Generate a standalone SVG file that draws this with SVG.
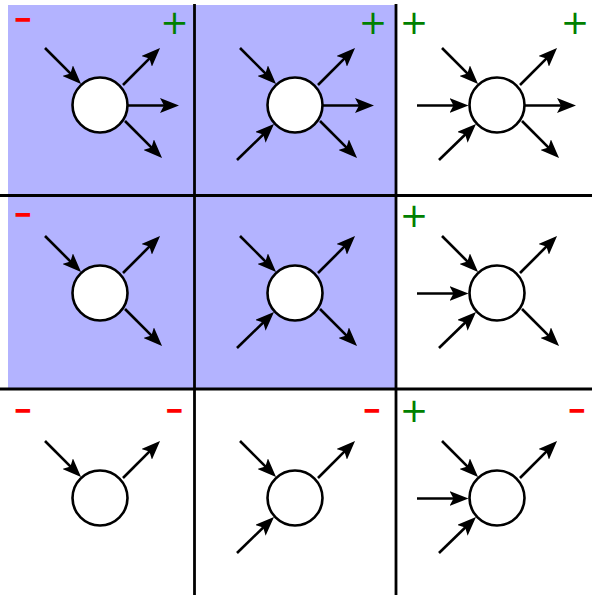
<svg xmlns="http://www.w3.org/2000/svg" width="592" height="595" viewBox="0 0 592 595">
<style>
.grid{stroke:#000;stroke-width:2.8;fill:none}
.node{fill:#fff;stroke:#000;stroke-width:2.6}
.arr{stroke:#000;stroke-width:2.6;fill:none;marker-end:url(#ah)}
.plus{fill:#008000;font-family:"DejaVu Sans",sans-serif;font-size:34px;text-anchor:middle}
.minus{fill:#ff0000;font-family:"DejaVu Sans",sans-serif;font-weight:bold;font-size:33px;text-anchor:middle}
</style>
<defs>
<marker id="ah" markerUnits="userSpaceOnUse" markerWidth="19" markerHeight="15" refX="13" refY="7.5" orient="auto" viewBox="0 0 19 15">
<path d="M0,0 L19,7.5 L0,15 L4,7.5 z" fill="#000"/>
</marker>
<line id="inTL" class="arr" x1="-55" y1="-57" x2="-23.2" y2="-25.2"/>
<line id="inBL" class="arr" x1="-58" y1="55" x2="-25.3" y2="23.2"/>
<line id="inL" class="arr" x1="-80" y1="0.5" x2="-34.5" y2="0.5"/>
<line id="outUR" class="arr" x1="23" y1="-20" x2="55.8" y2="-52.8"/>
<line id="outR" class="arr" x1="28" y1="0.5" x2="73" y2="0.5"/>
<line id="outDR" class="arr" x1="25" y1="16" x2="57.8" y2="48.8"/>
</defs>
<rect id="shaded" x="8" y="5" width="388" height="384" fill="#b3b3ff"/>
<g id="grid">
<line class="grid" x1="194.5" y1="4" x2="194.5" y2="595"/>
<line class="grid" x1="396" y1="4" x2="396" y2="595"/>
<line class="grid" x1="0" y1="195.5" x2="592" y2="195.5"/>
<line class="grid" x1="0" y1="389" x2="592" y2="389"/>
</g>
<g id="connectors">
<g transform="translate(100,105)"><use href="#inTL"/><use href="#outUR"/><use href="#outR"/><use href="#outDR"/></g>
<g transform="translate(295,105)"><use href="#inTL"/><use href="#inBL"/><use href="#outUR"/><use href="#outR"/><use href="#outDR"/></g>
<g transform="translate(497,105)"><use href="#inTL"/><use href="#inL"/><use href="#inBL"/><use href="#outUR"/><use href="#outR"/><use href="#outDR"/></g>
<g transform="translate(100,293)"><use href="#inTL"/><use href="#outUR"/><use href="#outDR"/></g>
<g transform="translate(295,293)"><use href="#inTL"/><use href="#inBL"/><use href="#outUR"/><use href="#outDR"/></g>
<g transform="translate(497,293)"><use href="#inTL"/><use href="#inL"/><use href="#inBL"/><use href="#outUR"/><use href="#outDR"/></g>
<g transform="translate(100,498)"><use href="#inTL"/><use href="#outUR"/></g>
<g transform="translate(295,498)"><use href="#inTL"/><use href="#inBL"/><use href="#outUR"/></g>
<g transform="translate(497,498)"><use href="#inTL"/><use href="#inL"/><use href="#inBL"/><use href="#outUR"/></g>
</g>
<g id="n11"><circle class="node" cx="100" cy="105" r="27.5"/>
<text class="minus" transform="translate(23,30) scale(0.7,1)">−</text>
<text class="plus" x="174.5" y="34">+</text></g>
<g id="n12"><circle class="node" cx="295" cy="105" r="27.5"/>
<text class="plus" x="373" y="34">+</text></g>
<g id="n13"><circle class="node" cx="497" cy="105" r="27.5"/>
<text class="plus" x="414" y="34">+</text>
<text class="plus" x="575" y="34">+</text></g>
<g id="n21"><circle class="node" cx="100" cy="293" r="27.5"/>
<text class="minus" transform="translate(23,225) scale(0.7,1)">−</text></g>
<g id="n22"><circle class="node" cx="295" cy="293" r="27.5"/></g>
<g id="n23"><circle class="node" cx="497" cy="293" r="27.5"/>
<text class="plus" x="414" y="227">+</text></g>
<g id="n31"><circle class="node" cx="100" cy="498" r="27.5"/>
<text class="minus" transform="translate(23,421) scale(0.7,1)">−</text>
<text class="minus" transform="translate(174.5,421) scale(0.7,1)">−</text></g>
<g id="n32"><circle class="node" cx="295" cy="498" r="27.5"/>
<text class="minus" transform="translate(372,421) scale(0.7,1)">−</text></g>
<g id="n33"><circle class="node" cx="497" cy="498" r="27.5"/>
<text class="plus" x="414" y="422">+</text>
<text class="minus" transform="translate(577,421) scale(0.7,1)">−</text></g>
</svg>
